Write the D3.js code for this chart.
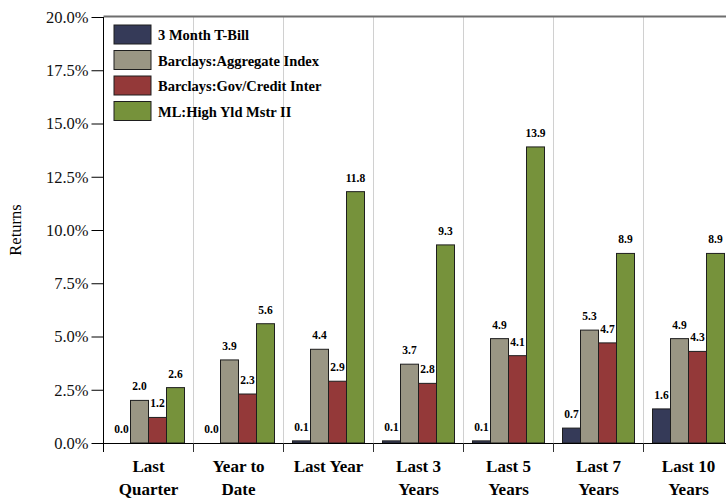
<!DOCTYPE html>
<html>
<head>
<meta charset="utf-8">
<script src="https://cdn.jsdelivr.net/npm/d3@7"></script>
<style>
  body { margin: 0; background: #fff; }
  svg { display: block; font-family: "Liberation Serif", "Times New Roman", serif; }
</style>
</head>
<body>
<svg id="chart" width="726" height="499"></svg>
<script>
// data
const periods = [["Last", "Quarter"], ["Year to", "Date"], ["Last Year"], ["Last 3", "Years"],
                 ["Last 5", "Years"], ["Last 7", "Years"], ["Last 10", "Years"]]
const seriesNames = ["3 Month T-Bill", "Barclays:Aggregate Index", "Barclays:Gov/Credit Inter", "ML:High Yld Mstr II"]
const tBill = [0.0, 0.0, 0.1, 0.1, 0.1, 0.7, 1.6]
const aggregate = [2.0, 3.9, 4.4, 3.7, 4.9, 5.3, 4.9]
const govCredit = [1.2, 2.3, 2.9, 2.8, 4.1, 4.7, 4.3]
const highYield = [2.6, 5.6, 11.8, 9.3, 13.9, 8.9, 8.9]
const yTicks = [0, 2.5, 5, 7.5, 10, 12.5, 15, 17.5, 20]
const colors = ["#353a58", "#9a9684", "#943939", "#76923b"]

const allSeries = [tBill, aggregate, govCredit, highYield]
const serif = "Liberation Serif"

const svg = d3.select("#chart")
const plotLeft = 103.5, plotTop = 17, plotBottom = 443, bandW = 90

const x0 = d3.scaleBand()
    .domain(d3.range(periods.length))
    .range([plotLeft, plotLeft + bandW * periods.length])
    .paddingInner(0).paddingOuter(0)
const x1 = d3.scaleBand()
    .domain(d3.range(seriesNames.length))
    .range([0, x0.bandwidth()])
    .paddingOuter(0.5).paddingInner(0)
const y = d3.scaleLinear().domain([0, 20]).range([plotBottom, plotTop])

// vertical grid lines at group boundaries
svg.append("g").selectAll("line")
    .data(d3.range(1, periods.length + 1))
    .join("line")
    .attr("x1", d => x0(0) + d * bandW).attr("x2", d => x0(0) + d * bandW)
    .attr("y1", plotTop).attr("y2", plotBottom)
    .attr("stroke", "#d0d0d0").attr("stroke-width", 1)

// top frame
svg.append("line")
    .attr("x1", plotLeft).attr("x2", 726).attr("y1", plotTop - 0.5).attr("y2", plotTop - 0.5)
    .attr("stroke", "#6e6e6e").attr("stroke-width", 2)

// bars
const groups = svg.append("g").selectAll("g")
    .data(periods.map((p, i) => i))
    .join("g")
    .attr("transform", i => `translate(${x0(i)},0)`)

groups.selectAll("rect")
    .data(i => allSeries.map((s, k) => ({k, v: s[i]})))
    .join("rect")
    .attr("x", d => x1(d.k))
    .attr("width", x1.bandwidth())
    .attr("y", d => y(d.v))
    .attr("height", d => y(0) - y(d.v))
    .attr("fill", d => colors[d.k])
    .attr("stroke", "#1e1e1e").attr("stroke-width", 1)

groups.selectAll("text")
    .data(i => allSeries.map((s, k) => ({k, v: s[i]})))
    .join("text")
    .attr("x", d => x1(d.k) + x1.bandwidth() / 2)
    .attr("y", d => y(d.v) - 10)
    .attr("text-anchor", "middle")
    .attr("font-family", serif)
    .attr("font-size", 11.5).attr("font-weight", "bold")
    .text(d => d.v.toFixed(1))

// y axis
const yAxis = svg.append("g")
    .attr("transform", `translate(${plotLeft},0)`)
    .call(d3.axisLeft(y).tickValues(yTicks).tickSize(12).tickPadding(3)
        .tickFormat(d => d3.format(".1f")(d) + "%"))
yAxis.select(".domain").attr("d", `M0,${plotTop}V${plotBottom + 9}`).attr("stroke", "#000")
yAxis.selectAll("text").attr("font-size", 16.5).attr("font-family", serif).attr("fill", "#111")

svg.append("text")
    .attr("transform", `translate(21,${(plotTop + plotBottom) / 2}) rotate(-90)`)
    .attr("text-anchor", "middle")
    .attr("font-family", serif)
    .attr("font-size", 16.5)
    .text("Returns")

// x axis
svg.append("line")
    .attr("x1", plotLeft).attr("x2", 726).attr("y1", plotBottom + 0.5).attr("y2", plotBottom + 0.5)
    .attr("stroke", "#000")
svg.append("g").selectAll("line")
    .data(d3.range(1, periods.length + 1))
    .join("line")
    .attr("x1", d => x0(0) + d * bandW).attr("x2", d => x0(0) + d * bandW)
    .attr("y1", plotBottom).attr("y2", plotBottom + 9)
    .attr("stroke", "#333")

const xl = svg.append("g").selectAll("text")
    .data(periods)
    .join("text")
    .attr("x", (d, i) => x0(i) + bandW / 2)
    .attr("y", 472)
    .attr("text-anchor", "middle")
    .attr("font-family", serif)
    .attr("font-size", 17).attr("font-weight", "bold")
xl.selectAll("tspan")
    .data(d => d)
    .join("tspan")
    .attr("x", function() { return this.parentNode.getAttribute("x") })
    .attr("dy", (d, j) => j ? 23 : 0)
    .text(d => d)

// legend
const legend = svg.append("g").selectAll("g")
    .data(seriesNames)
    .join("g")
    .attr("transform", (d, i) => `translate(114,${25 + i * 25.5})`)
legend.append("rect")
    .attr("width", 37).attr("height", 19)
    .attr("fill", (d, i) => colors[i])
    .attr("stroke", "#1e1e1e")
legend.append("text")
    .attr("x", 44).attr("y", 15)
    .attr("font-family", serif)
    .attr("font-size", 14.5).attr("font-weight", "bold")
    .text(d => d)
</script>
</body>
</html>
